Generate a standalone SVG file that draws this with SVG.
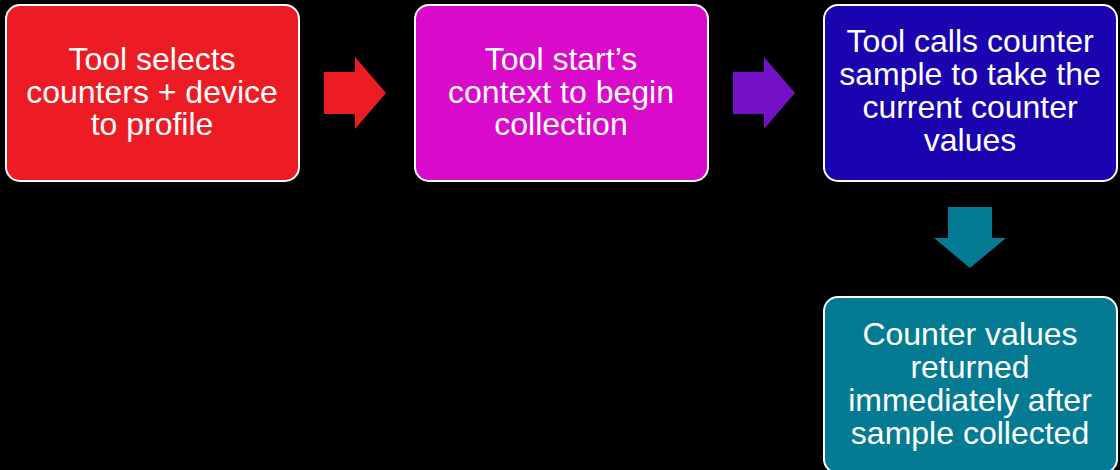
<svg xmlns="http://www.w3.org/2000/svg" width="1120" height="470" viewBox="0 0 1120 470">
  <style>
    .box { stroke: #ffffff; stroke-width: 2; }
    .label { font-family: "Liberation Sans", Arial, sans-serif; font-size: 32px; fill: #ffffff; text-anchor: middle; }
  </style>
  <rect x="0" y="0" width="1120" height="470" fill="#000000"/>

  <g id="connectors">
    <polygon points="324,72 355,72 355,57 386,93 355,129 355,114 324,114" fill="#ED1C24"/>
    <polygon points="733,72 764,72 764,57 795,93 764,129 764,114 733,114" fill="#7410C6"/>
    <polygon points="948,207 992,207 992,238 1006,238 970,268 934,238 948,238" fill="#047B93"/>
  </g>

  <g id="node-select">
    <rect class="box" x="6" y="5" width="293" height="176" rx="14" fill="#ED1C24"/>
    <text class="label" x="152" y="70">Tool selects</text>
    <text class="label" x="152" y="102.5">counters + device</text>
    <text class="label" x="152" y="135">to profile</text>
  </g>

  <g id="node-start">
    <rect class="box" x="415" y="5" width="293" height="176" rx="14" fill="#D90BCB"/>
    <text class="label" x="561" y="70">Tool start’s</text>
    <text class="label" x="561" y="102.5">context to begin</text>
    <text class="label" x="561" y="135">collection</text>
  </g>

  <g id="node-sample">
    <rect class="box" x="824" y="5" width="293" height="176" rx="14" fill="#1A04B0"/>
    <text class="label" x="970" y="52">Tool calls counter</text>
    <text class="label" x="970" y="85">sample to take the</text>
    <text class="label" x="970" y="118">current counter</text>
    <text class="label" x="970" y="151">values</text>
  </g>

  <g id="node-returned">
    <rect class="box" x="824" y="297" width="293" height="176" rx="14" fill="#047B93"/>
    <text class="label" x="970" y="345">Counter values</text>
    <text class="label" x="970" y="378">returned</text>
    <text class="label" x="970" y="411">immediately after</text>
    <text class="label" x="970" y="444">sample collected</text>
  </g>
</svg>
